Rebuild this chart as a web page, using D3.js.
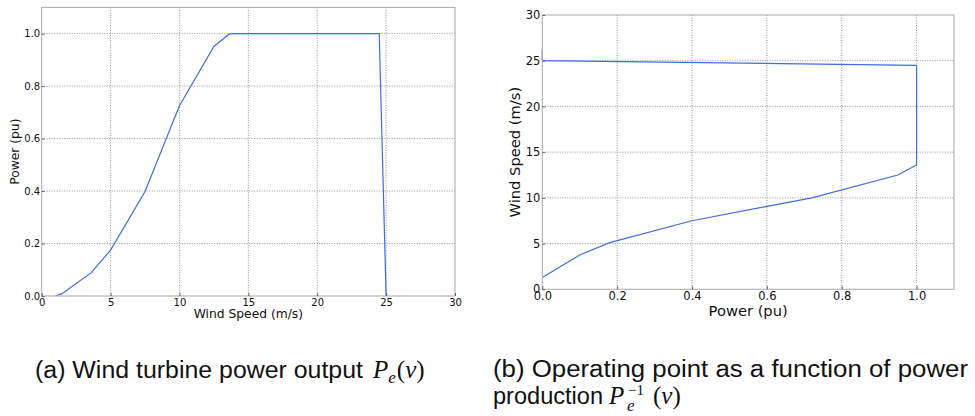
<!DOCTYPE html>
<html><head><meta charset="utf-8">
<script src="https://cdn.jsdelivr.net/npm/d3@7"></script>
<style>body{margin:0;background:#fff}svg{display:block}</style>
</head><body>
<svg id="c" width="975" height="416"></svg>
<script>
// Panel (a): wind turbine power curve
const windA  = [1.0, 1.45, 3.6, 5.0, 7.5, 10.0, 12.5, 13.6, 14.0, 24.5, 25.0];
const powerA = [0, 0.008, 0.089, 0.175, 0.398, 0.725, 0.951, 0.998, 1.0, 1.0, 0];
const xTicksA = [0, 5, 10, 15, 20, 25, 30];
const yTicksA = [0, 0.2, 0.4, 0.6, 0.8, 1.0];
// Panel (b): inverse (operating point vs power)
const powerB = [0, 0.1, 0.18, 0.4, 0.72, 0.95, 1.0, 1.0, 0, 0];
const windB  = [1.3, 3.75, 5.1, 7.5, 10.0, 12.5, 13.6, 24.5, 25.0, 26.2];
const xTicksB = [0, 0.2, 0.4, 0.6, 0.8, 1.0];
const yTicksB = [0, 5, 10, 15, 20, 25, 30];

const svg = d3.select("#c");
const LINE = "#3d6fdb";

function panel(o) {
  const x = d3.scaleLinear().domain(o.xd).range([o.l, o.r]);
  const y = d3.scaleLinear().domain(o.yd).range([o.b, o.t]);
  const g = svg.append("g");
  // grid
  g.selectAll(".gx").data(o.xt.filter(v => x(v) > o.l + 1 && x(v) < o.r - 1)).join("line")
    .attr("x1", d => x(d)).attr("x2", d => x(d)).attr("y1", o.t).attr("y2", o.b)
    .attr("stroke", "#777").attr("stroke-width", 0.8).attr("stroke-dasharray", "1,1.5");
  g.selectAll(".gy").data(o.yt.filter(v => y(v) < o.b - 1 && y(v) > o.t + 1)).join("line")
    .attr("y1", d => y(d)).attr("y2", d => y(d)).attr("x1", o.l).attr("x2", o.r)
    .attr("stroke", "#777").attr("stroke-width", 0.8).attr("stroke-dasharray", "1,1.5");
  // line
  const pts = o.xs.map((v, i) => [v, o.ys[i]]);
  g.append("path").datum(pts)
    .attr("d", d3.line().x(d => x(d[0])).y(d => y(d[1])))
    .attr("fill", "none").attr("stroke", LINE).attr("stroke-width", 1.2);
  // frame
  g.append("rect").attr("x", o.l).attr("y", o.t).attr("width", o.r - o.l).attr("height", o.b - o.t)
    .attr("fill", "none").attr("stroke", "#b0b0b0").attr("stroke-width", 1.1);
  // axes with inward ticks
  const ax = g.append("g").attr("transform", `translate(0,${o.b})`)
    .call(d3.axisBottom(x).tickValues(o.xt).tickFormat(o.xf).tickSizeInner(-3).tickSizeOuter(0).tickPadding(o.xpad));
  const ay = g.append("g").attr("transform", `translate(${o.l},0)`)
    .call(d3.axisLeft(y).tickValues(o.yt).tickFormat(o.yf).tickSizeInner(-3).tickSizeOuter(0).tickPadding(o.ypad));
  [ax, ay].forEach(a => {
    a.select(".domain").remove();
    a.selectAll(".tick line").attr("stroke", "#444").attr("stroke-width", 0.8);
    a.selectAll("text").attr("font-family", "DejaVu Sans").attr("font-size", o.fs).attr("fill", "#111");
  });
  ax.selectAll("text").attr("dy", "0.71em");
  // axis labels
  g.append("text").attr("x", (o.l + o.r) / 2).attr("y", o.xly).attr("text-anchor", "middle")
    .attr("font-family", "DejaVu Sans").attr("font-size", o.lfs).attr("fill", "#111").text(o.xl);
  g.append("text").attr("transform", `translate(${o.ylx},${(o.t + o.b) / 2}) rotate(-90)`).attr("text-anchor", "middle")
    .attr("font-family", "DejaVu Sans").attr("font-size", o.lfs).attr("fill", "#111").text(o.yl);
}

panel({l: 41.7, r: 455, t: 7.4, b: 296, xd: [0, 30], yd: [0, 1.1],
  xt: xTicksA, yt: yTicksA, xf: d3.format("d"), yf: d3.format(".1f"),
  xs: windA, ys: powerA, fs: 10, lfs: 12.3, xpad: 3, ypad: 1.5,
  xl: "Wind Speed (m/s)", xly: 318, yl: "Power (pu)", ylx: 18.8});

panel({l: 542.3, r: 954, t: 15, b: 289.3, xd: [0, 1.1], yd: [0, 30],
  xt: xTicksB, yt: yTicksB, xf: d3.format(".1f"), yf: d3.format("d"),
  xs: powerB, ys: windB, fs: 11.5, lfs: 14.7, xpad: 2.5, ypad: 2,
  xl: "Power (pu)", xly: 315.5, yl: "Wind Speed (m/s)", ylx: 520});

// captions
const capFont = "Liberation Sans", mathFont = "Liberation Serif";
function cap(x, y, txt, len) {
  return svg.append("text").attr("x", x).attr("y", y).attr("font-family", capFont).attr("font-size", 23)
    .attr("fill", "#111").attr("textLength", len).attr("lengthAdjust", "spacingAndGlyphs").text(txt);
}
cap(35, 378, "(a) Wind turbine power output", 328);
const ma = svg.append("text").attr("x", 373).attr("y", 378).attr("font-family", mathFont).attr("font-size", 25).attr("fill", "#111");
ma.append("tspan").attr("font-style", "italic").text("P");
ma.append("tspan").attr("font-style", "italic").attr("font-size", 17).attr("dy", 5).text("e");
ma.append("tspan").attr("dy", -5).attr("dx", 1).text("(");
ma.append("tspan").attr("font-style", "italic").text("v");
ma.append("tspan").text(")");

cap(493, 377, "(b) Operating point as a function of power", 475);
cap(493, 404, "production", 110);
const mb = svg.append("g");
mb.append("text").attr("x", 609).attr("y", 404).attr("font-family", mathFont).attr("font-size", 25)
  .attr("font-style", "italic").attr("fill", "#111").text("P");
mb.append("text").attr("x", 627).attr("y", 411).attr("font-family", mathFont).attr("font-size", 17)
  .attr("font-style", "italic").attr("fill", "#111").text("e");
mb.append("text").attr("x", 628).attr("y", 395).attr("font-family", mathFont).attr("font-size", 15)
  .attr("fill", "#111").text("\u22121");
const mb2 = mb.append("text").attr("x", 653).attr("y", 404).attr("font-family", mathFont).attr("font-size", 25).attr("fill", "#111");
mb2.append("tspan").text("(");
mb2.append("tspan").attr("font-style", "italic").text("v");
mb2.append("tspan").text(")");
</script>
</body></html>
